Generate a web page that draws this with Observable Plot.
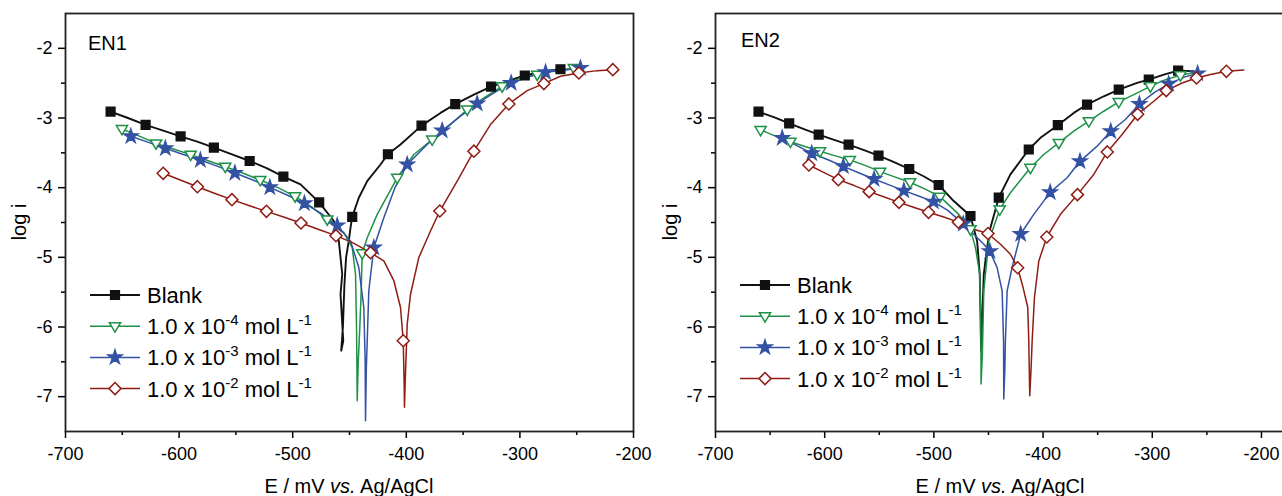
<!DOCTYPE html>
<html>
<head>
<meta charset="utf-8">
<script src="https://cdn.jsdelivr.net/npm/d3@7"></script>
<script src="https://cdn.jsdelivr.net/npm/@observablehq/plot@0.6"></script>
<style>
  html, body { margin: 0; padding: 0; background: #fff; overflow: hidden; }
  #wrap { position: relative; width: 1282px; height: 496px; overflow: hidden; }
  #p1, #p2 { position: absolute; top: 0; height: 496px; }
  #p1 { left: 0; width: 641px; }
  #p2 { left: 641px; width: 650px; }
  #wrap svg { max-width: none !important; }
  #wrap svg text { font-family: 'Liberation Sans', Arial, Helvetica, sans-serif; }
</style>
</head>
<body>
<div id="wrap"><div id="p1"></div><div id="p2"></div></div>
<script>
// ---------------- DATA ----------------
const seriesNames = ["Blank", "1.0 x 10^-4 mol L^-1", "1.0 x 10^-3 mol L^-1", "1.0 x 10^-2 mol L^-1"];
const xMajorTicks = [-700, -600, -500, -400, -300, -200];
const xMinorTicks = [-650, -550, -450, -350, -250];
const yMajorTicks = [-7, -6, -5, -4, -3, -2];
const yMinorTicks = [-6.5, -5.5, -4.5, -3.5, -2.5];
const panelLabels = ["EN1", "EN2"];

// EN1 — Blank
const en1BlankE = [-660.3,-645,-629.5,-614,-598.7,-584,-569.4,-554,-537.9,-523,-508.2,-493.1,-476.7,-463.8,-459.4,-457.9,-456.4,-457.9,-455.5,-457.3,-455.8,-454.5,-453,-450.5,-449.1,-447.6,-441.8,-434.4,-422.7,-416.2,-405.1,-386.6,-369.9,-356.9,-340.5,-325.4,-311.2,-295.7,-278.9,-264.3];
const en1BlankLogI = [-2.909,-3.0,-3.10,-3.18,-3.263,-3.34,-3.426,-3.52,-3.617,-3.72,-3.842,-3.953,-4.211,-4.479,-4.765,-5.004,-5.243,-5.53,-6.2,-6.34,-6.0,-5.4,-5.0,-4.75,-4.574,-4.42,-4.144,-3.906,-3.667,-3.52,-3.38,-3.11,-2.927,-2.80,-2.664,-2.55,-2.473,-2.39,-2.33,-2.30];
const en1BlankMarkE = [-660.3,-629.5,-598.7,-569.4,-537.9,-508.2,-476.7,-447.6,-416.2,-386.6,-356.9,-325.4,-295.7,-264.3];
const en1BlankMarkLogI = [-2.909,-3.10,-3.263,-3.426,-3.617,-3.842,-4.211,-4.42,-3.52,-3.11,-2.80,-2.55,-2.39,-2.30];
// EN1 — 1e-4
const en1C4E = [-650.3,-635,-620.3,-605,-589.8,-575,-559.4,-544,-528.6,-513,-497.9,-483,-469.6,-455,-447.6,-444.7,-443.8,-443.2,-442.3,-440.9,-439.7,-438.8,-434.4,-425.6,-408,-393.3,-377.2,-361.1,-346.4,-331.7,-315.6,-299.5,-284.8,-270.1,-252.5,-246.7];
const en1C4LogI = [-3.158,-3.26,-3.364,-3.445,-3.526,-3.61,-3.699,-3.79,-3.89,-4.0,-4.124,-4.28,-4.455,-4.646,-4.861,-5.243,-6.0,-7.057,-6.5,-6.0,-5.48,-4.942,-4.718,-4.383,-3.858,-3.524,-3.309,-3.094,-2.879,-2.712,-2.545,-2.425,-2.377,-2.32,-2.282,-2.28];
const en1C4MarkE = [-650.3,-620.3,-589.8,-559.4,-528.6,-497.9,-469.6,-438.8,-408,-377.2,-346.4,-315.6,-284.8,-252.5];
const en1C4MarkLogI = [-3.158,-3.364,-3.526,-3.699,-3.89,-4.124,-4.455,-4.942,-3.858,-3.309,-2.879,-2.545,-2.377,-2.282];
// EN1 — 1e-3
const en1C3E = [-642.5,-627,-612.1,-597,-581.3,-566,-550.9,-535,-520.1,-505,-489.7,-475,-460.8,-449.1,-441.8,-437.4,-436.2,-435.9,-435.2,-434.4,-433,-428.6,-419.8,-410,-399.2,-381.6,-368.4,-352.3,-337.6,-322.9,-307.7,-290.7,-277.4,-261.3,-246.7];
const en1C3LogI = [-3.263,-3.35,-3.435,-3.52,-3.603,-3.695,-3.789,-3.89,-3.995,-4.105,-4.225,-4.37,-4.545,-4.765,-5.147,-5.72,-6.5,-7.344,-6.6,-6.198,-5.48,-4.861,-4.431,-4.0,-3.667,-3.38,-3.18,-2.974,-2.793,-2.64,-2.497,-2.401,-2.344,-2.315,-2.282];
const en1C3MarkE = [-642.5,-612.1,-581.3,-550.9,-520.1,-489.7,-460.8,-428.6,-399.2,-368.4,-337.6,-307.7,-277.4,-246.7];
const en1C3MarkLogI = [-3.263,-3.435,-3.603,-3.789,-3.995,-4.225,-4.545,-4.861,-3.667,-3.18,-2.793,-2.497,-2.344,-2.282];
// EN1 — 1e-2
const en1C2E = [-614,-599,-583.9,-569,-553.5,-538,-523.1,-508,-492.7,-477,-461.9,-446,-431.5,-419.8,-410.9,-405.1,-402.7,-401.9,-401.6,-401,-399.2,-396.3,-389,-378.7,-370.5,-355.2,-340.5,-325.9,-309.7,-293.6,-278.9,-264.3,-248.1,-232,-218.2];
const en1C2LogI = [-3.794,-3.89,-3.986,-4.08,-4.172,-4.26,-4.34,-4.42,-4.507,-4.6,-4.689,-4.8,-4.933,-5.052,-5.339,-5.72,-6.198,-6.8,-7.153,-6.8,-5.96,-5.53,-5.004,-4.622,-4.335,-3.906,-3.476,-3.094,-2.798,-2.607,-2.506,-2.401,-2.353,-2.32,-2.306];
const en1C2MarkE = [-614,-583.9,-553.5,-523.1,-492.7,-461.9,-431.5,-402.7,-370.5,-340.5,-309.7,-278.9,-248.1,-218.2];
const en1C2MarkLogI = [-3.794,-3.986,-4.172,-4.34,-4.507,-4.689,-4.933,-6.198,-4.335,-3.476,-2.798,-2.506,-2.353,-2.306];

// EN2 — Blank
const en2BlankE = [-660.6,-646,-632.5,-619,-605.5,-592,-578.1,-564,-550.7,-537,-522.6,-509,-495.6,-481.8,-466.5,-460.4,-458,-457.4,-456.8,-455.5,-454.3,-451.3,-448.2,-440.6,-429.9,-413.1,-402.4,-386.5,-371.9,-359.7,-344.4,-330.7,-313.9,-303.2,-289.4,-276.3,-262];
const en2BlankLogI = [-2.909,-2.99,-3.077,-3.16,-3.239,-3.31,-3.383,-3.46,-3.541,-3.63,-3.732,-3.84,-3.962,-4.192,-4.407,-4.765,-5.243,-5.72,-6.341,-5.8,-5.243,-4.861,-4.574,-4.144,-3.81,-3.452,-3.285,-3.103,-2.927,-2.807,-2.688,-2.592,-2.497,-2.449,-2.377,-2.32,-2.33];
const en2BlankMarkE = [-660.6,-632.5,-605.5,-578.1,-550.7,-522.6,-495.6,-466.5,-440.6,-413.1,-386.5,-359.7,-330.7,-303.2,-276.3];
const en2BlankMarkLogI = [-2.909,-3.077,-3.239,-3.383,-3.541,-3.732,-3.962,-4.407,-4.144,-3.452,-3.103,-2.807,-2.592,-2.449,-2.32];
// EN2 — 1e-4
const en2C4E = [-658.7,-645,-631.4,-618,-604.3,-591,-577,-563,-549.2,-536,-521.8,-508,-494.4,-477.2,-466.5,-461.9,-458,-457,-456.8,-455.6,-454.3,-449.7,-439.7,-429.9,-411.6,-399.4,-385.6,-371.9,-358.1,-344.4,-330.7,-316.9,-301.7,-287.9,-274.2,-258.9];
const en2C4LogI = [-3.172,-3.26,-3.34,-3.41,-3.478,-3.54,-3.603,-3.68,-3.77,-3.845,-3.923,-4.02,-4.129,-4.383,-4.598,-4.861,-5.243,-6.0,-6.819,-6.4,-5.48,-4.765,-4.312,-4.073,-3.715,-3.524,-3.357,-3.189,-3.046,-2.903,-2.769,-2.664,-2.545,-2.449,-2.387,-2.339];
const en2C4MarkE = [-658.7,-631.4,-604.3,-577,-549.2,-521.8,-494.4,-466.5,-439.7,-411.6,-385.6,-358.1,-330.7,-301.7,-274.2];
const en2C4MarkLogI = [-3.172,-3.34,-3.478,-3.603,-3.77,-3.923,-4.129,-4.598,-4.312,-3.715,-3.357,-3.046,-2.769,-2.545,-2.387];
// EN2 — 1e-3
const en2C3E = [-638.9,-625,-611.9,-597,-582.9,-569,-554.8,-541,-527.5,-514,-500.4,-487,-473.1,-463.5,-454.3,-448.7,-442.1,-437.5,-436.2,-436,-435,-434.5,-432.9,-428.4,-420.5,-408.5,-393.5,-378,-366.2,-350.5,-338,-324.6,-311.8,-298.6,-285,-270,-258.5];
const en2C3LogI = [-3.287,-3.4,-3.507,-3.6,-3.694,-3.785,-3.876,-3.96,-4.043,-4.12,-4.201,-4.33,-4.52,-4.67,-4.813,-4.914,-5.147,-5.48,-6.198,-7.034,-6.6,-6.198,-5.48,-5.147,-4.665,-4.383,-4.067,-3.858,-3.622,-3.404,-3.191,-3.022,-2.799,-2.64,-2.51,-2.41,-2.36];
const en2C3MarkE = [-638.9,-611.9,-582.9,-554.8,-527.5,-500.4,-473.1,-448.7,-420.5,-393.5,-366.2,-338,-311.8,-285,-258.5];
const en2C3MarkLogI = [-3.287,-3.507,-3.694,-3.876,-4.043,-4.201,-4.52,-4.914,-4.665,-4.067,-3.622,-3.191,-2.799,-2.51,-2.36];
// EN2 — 1e-2
const en2C2E = [-614.5,-601,-587.5,-573,-559.3,-546,-532,-518,-504.9,-491,-477.6,-463.5,-450.5,-439,-429.9,-423.3,-418.3,-414,-413.1,-412.2,-411,-410,-407.9,-403.9,-396.6,-384.1,-368.5,-353.6,-341.2,-327.6,-313.4,-298.6,-287.2,-272.7,-259.5,-246.7,-232.1,-216.2];
const en2C2LogI = [-3.675,-3.78,-3.885,-3.97,-4.057,-4.13,-4.211,-4.285,-4.354,-4.42,-4.495,-4.598,-4.658,-4.813,-4.956,-5.15,-5.434,-5.72,-6.198,-6.986,-6.6,-6.198,-5.577,-5.052,-4.708,-4.383,-4.1,-3.81,-3.487,-3.237,-2.947,-2.76,-2.607,-2.497,-2.425,-2.377,-2.33,-2.31];
const en2C2MarkE = [-614.5,-587.5,-559.3,-532,-504.9,-477.6,-450.5,-423.3,-396.6,-368.5,-341.2,-313.4,-287.2,-259.5,-232.1];
const en2C2MarkLogI = [-3.675,-3.885,-4.057,-4.211,-4.354,-4.495,-4.658,-5.15,-4.708,-4.1,-3.487,-2.947,-2.607,-2.425,-2.33];

// ---------------- STYLE ----------------
const FONT = "'Liberation Sans', Arial, Helvetica, sans-serif";
const triangleDown = {
  draw(ctx, size) {
    const s = Math.sqrt(size / Math.PI), w = s * 1.3;
    ctx.moveTo(-w, -w * 0.62); ctx.lineTo(w, -w * 0.62); ctx.lineTo(0, w * 1.05); ctx.closePath();
  }
};
const diamondSym = {
  draw(ctx, size) {
    const h = Math.sqrt(size / 2);
    ctx.moveTo(0, -h); ctx.lineTo(h, 0); ctx.lineTo(0, h); ctx.lineTo(-h, 0); ctx.closePath();
  }
};
const styles = [
  {color: "#111111", symbol: d3.symbolSquare, r: 4.9, fill: "#111111", lw: 1.9},
  {color: "#1f9147", symbol: triangleDown, r: 4.3, fill: "#ffffff", lw: 1.5},
  {color: "#3452a4", symbol: d3.symbolStar, r: 4.4, fill: "#3452a4", lw: 1.5},
  {color: "#8f1d14", symbol: diamondSym, r: 4.8, fill: "#ffffff", lw: 1.5}
];

function zip(E, L) { return E.map((e, i) => ({E: e, logi: L[i]})); }

const panels = [
  {
    el: "#p1", label: panelLabels[0], width: 641, marginLeft: 65, marginRight: 8, xDomain: [-700, -200],
    lines: [[en1BlankE, en1BlankLogI], [en1C4E, en1C4LogI], [en1C3E, en1C3LogI], [en1C2E, en1C2LogI]],
    marks: [[en1BlankMarkE, en1BlankMarkLogI], [en1C4MarkE, en1C4MarkLogI], [en1C3MarkE, en1C3MarkLogI], [en1C2MarkE, en1C2MarkLogI]],
    tag: [88, 50], yLab: 19, xLab: 349,
    legend: {x0: 90, x1: 140, tx: 147, y0: 295, step: 31.2}
  },
  {
    el: "#p2", label: panelLabels[1], width: 650, marginLeft: 74, marginRight: 7, xDomain: [-700, -178.9],
    lines: [[en2BlankE, en2BlankLogI], [en2C4E, en2C4LogI], [en2C3E, en2C3LogI], [en2C2E, en2C2LogI]],
    marks: [[en2BlankMarkE, en2BlankMarkLogI], [en2C4MarkE, en2C4MarkLogI], [en2C3MarkE, en2C3MarkLogI], [en2C2MarkE, en2C2MarkLogI]],
    tag: [100, 47], yLab: 29, xLab: 359,
    legend: {x0: 99, x1: 149, tx: 156, y0: 285, step: 31.2}
  }
];

function addSupText(sel, name) {
  const parts = name.split(/\^(-?\d+)/);
  let raised = false;
  parts.forEach((p, i) => {
    if (p === "") return;
    const isSup = i % 2 === 1;
    const t = sel.append("tspan").text(p);
    if (isSup) { t.style("font-size", "15px").attr("dy", raised ? 0 : -9); raised = true; }
    else { t.style("font-size", "22px"); if (raised) { t.attr("dy", 9); raised = false; } }
  });
}

panels.forEach(p => {
  const lineMarks = p.lines.map((ln, i) => Plot.line(zip(ln[0], ln[1]), {
    x: "E", y: "logi", stroke: styles[i].color, strokeWidth: styles[i].lw, strokeLinejoin: "round"
  }));
  const dotMarks = p.marks.map((mk, i) => Plot.dot(zip(mk[0], mk[1]), {
    x: "E", y: "logi", symbol: styles[i].symbol, r: styles[i].r,
    fill: styles[i].fill, stroke: styles[i].color, strokeWidth: 1.5
  }));
  const chart = Plot.plot({
    width: p.width, height: 496,
    marginTop: 13, marginBottom: 65, marginLeft: p.marginLeft, marginRight: p.marginRight,
    x: {domain: p.xDomain},
    y: {domain: [-7.5, -1.5]},
    style: {fontFamily: FONT, fontSize: "18px", color: "#000", background: "transparent", overflow: "visible", maxWidth: "none"},
    marks: [
      Plot.axisX({ticks: xMajorTicks, tickSize: 7, tickPadding: 9, tickFormat: d => String(d), label: null, strokeWidth: 1.5}),
      Plot.axisX({ticks: xMinorTicks, tickSize: 4, tickFormat: () => "", label: null, strokeWidth: 1.5}),
      Plot.axisY({ticks: yMajorTicks, tickSize: 7, tickPadding: 6, tickFormat: d => String(d), label: null, strokeWidth: 1.5}),
      Plot.axisY({ticks: yMinorTicks, tickSize: 4, tickFormat: () => "", label: null, strokeWidth: 1.5}),
      ...lineMarks,
      ...dotMarks,
      Plot.frame({stroke: "#222", strokeWidth: 1.8})
    ]
  });
  document.querySelector(p.el).appendChild(chart);
  const svg = d3.select(chart);
  svg.style("max-width", "none").style("width", p.width + "px").style("height", "496px");
  svg.selectAll('g[aria-label="x-axis tick label"], g[aria-label="y-axis tick label"]')
    .style("font-size", "18px").style("fill", "#000");
  svg.selectAll('g[aria-label="x-axis tick label"] text, g[aria-label="y-axis tick label"] text')
    .style("font-size", "18px");

  // axis titles
  const xt = svg.append("text").attr("x", p.xLab).attr("y", 493)
    .style("text-anchor", "middle").style("font-size", "20px").style("fill", "#000");
  xt.append("tspan").text("E / mV ");
  xt.append("tspan").style("font-style", "italic").text("vs.");
  xt.append("tspan").text(" Ag/AgCl");
  svg.append("text").attr("transform", `translate(${p.yLab},222) rotate(-90)`)
    .style("text-anchor", "middle").style("dominant-baseline", "central")
    .style("font-size", "20px").style("fill", "#000").text("log i");

  // panel tag
  svg.append("text").attr("x", p.tag[0]).attr("y", p.tag[1])
    .style("text-anchor", "start").style("font-size", "20px").style("fill", "#000").text(p.label);

  // legend
  const lg = svg.append("g");
  seriesNames.forEach((name, i) => {
    const st = styles[i];
    const y = p.legend.y0 + i * p.legend.step;
    lg.append("line").attr("x1", p.legend.x0).attr("x2", p.legend.x1).attr("y1", y).attr("y2", y)
      .attr("stroke", st.color).attr("stroke-width", st.lw);
    lg.append("path").attr("d", d3.symbol(st.symbol, Math.PI * st.r * st.r)())
      .attr("transform", `translate(${(p.legend.x0 + p.legend.x1) / 2},${y})`)
      .attr("fill", st.fill).attr("stroke", st.color).attr("stroke-width", 1.5);
    const t = lg.append("text").attr("x", p.legend.tx).attr("y", y + 8)
      .style("text-anchor", "start").style("font-size", "22px").style("fill", "#000");
    addSupText(t, name);
  });
});
</script>
</body>
</html>
